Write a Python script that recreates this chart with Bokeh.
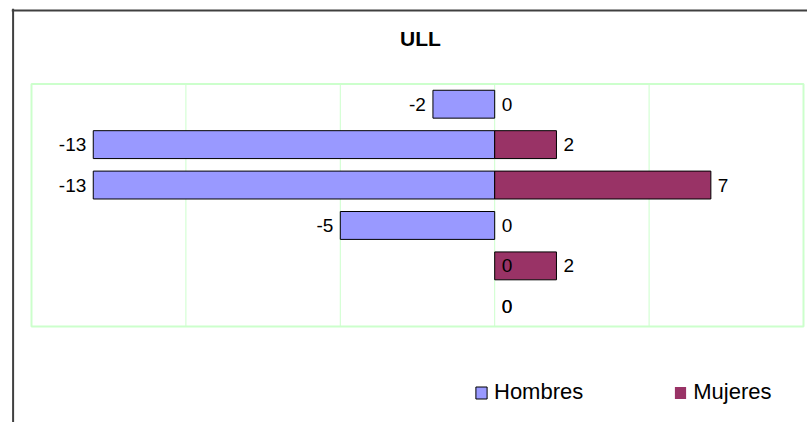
from bokeh.plotting import figure
from bokeh.models import (ColumnDataSource, Legend, LegendItem, Span, Range1d, Label)
from bokeh.embed import file_html
from bokeh.resources import INLINE
from bokeh.core.properties import value

# ---- data ----
rows = [1, 2, 3, 4, 5, 6]
hombres = [-2, -13, -13, -5, 0, 0]
mujeres = [0, 2, 7, 0, 2, 0]
series_names = ["Hombres", "Mujeres"]
x_ticks = [-15, -10, -5, 0, 5, 10]
title_text = "ULL"

FONT = "Liberation Sans"
C_H = "#9999FF"
C_M = "#993366"
GRID = "#CCFFCC"

# ---- layout (pixels) ----
W, H = 807, 422
FL, FT = 11, 8                 # frame left / top in canvas px
PA_L, PA_R = 31, 803           # plot area x pixels for x_ticks[0] .. x_ticks[-1]
PA_T, PA_B = 83.5, 326         # plot area y pixels
XMIN, XMAX = x_ticks[0], x_ticks[-1]
kx = (PA_R - PA_L) / (XMAX - XMIN)
ky = (PA_B - PA_T) / len(rows)
x_start = XMIN - (PA_L - FL) / kx
x_end = XMAX + (W - PA_R) / kx
y_top = 0.5 - (PA_T - FT) / ky
y_bot = len(rows) + 0.5 + (H - PA_B) / ky

def px_x(px):
    return x_start + (px - FL) / kx

def px_y(py):
    return y_top + (py - FT) / ky

def src(vals):
    return ColumnDataSource(dict(
        y=rows,
        v=vals,
        zero=[0] * len(vals),
        lab=[str(v) for v in vals],
        la=[1 if v != 0 else 0 for v in vals],
        align=["right" if v < 0 else "left" for v in vals],
        off=[-7 if v < 0 else 7 for v in vals],
    ))

sh = src(hombres)
sm = src(mujeres)

p = figure(width=W, height=H, output_backend="svg", toolbar_location=None,
           x_range=Range1d(x_start, x_end), y_range=Range1d(y_bot, y_top),
           min_border_left=FL, min_border_right=0, min_border_top=FT, min_border_bottom=0,
           background_fill_color="white", border_fill_color="white")
p.xaxis.visible = False
p.yaxis.visible = False
p.xgrid.visible = False
p.ygrid.visible = False
p.outline_line_color = None

y_lo, y_hi = 0.5, len(rows) + 0.5
# gridlines (interior)
p.segment(x0=x_ticks[1:-1], x1=x_ticks[1:-1], y0=[y_lo] * (len(x_ticks) - 2),
          y1=[y_hi] * (len(x_ticks) - 2), line_color=GRID, line_width=1)
# plot area border
p.quad(left=[XMIN], right=[XMAX], top=[y_lo], bottom=[y_hi],
       fill_alpha=0, line_color=GRID, line_width=2)

rh = p.hbar(y="y", left="v", right="zero", height=0.69, source=sh,
            fill_color=C_H, line_color="black", line_width=1, line_alpha="la")
rm = p.hbar(y="y", left="zero", right="v", height=0.69, source=sm,
            fill_color=C_M, line_color="black", line_width=1, line_alpha="la")

for s in (sh, sm):
    p.text(x="v", y="y", text="lab", source=s, x_offset="off",
           text_align="align", text_baseline="middle",
           text_font=value(FONT), text_font_size="19px", text_color="black")

p.add_layout(Label(x=px_x(420), y=px_y(37.5), text=title_text, text_align="center",
                   text_baseline="middle", text_font=FONT, text_font_size="21px",
                   text_font_style="bold", text_color="black"))

legend = Legend(items=[LegendItem(label=series_names[0], renderers=[rh]),
                       LegendItem(label=series_names[1], renderers=[rm])],
                orientation="horizontal", location=(474 - FL, H - 405),
                glyph_width=14, glyph_height=15, label_standoff=6, spacing=90,
                padding=0, margin=0, border_line_color=None, background_fill_alpha=0,
                label_text_font=FONT, label_text_font_size="22px",
                label_text_color="black")
p.add_layout(legend, "center")

# outer chart border (left and top edges visible)
p.add_layout(Span(location=px_x(12.6), dimension="height", line_color="#404040", line_width=2))
p.add_layout(Span(location=px_y(10), dimension="width", line_color="#404040", line_width=2))

open("out.html", "w").write(file_html(p, INLINE))
